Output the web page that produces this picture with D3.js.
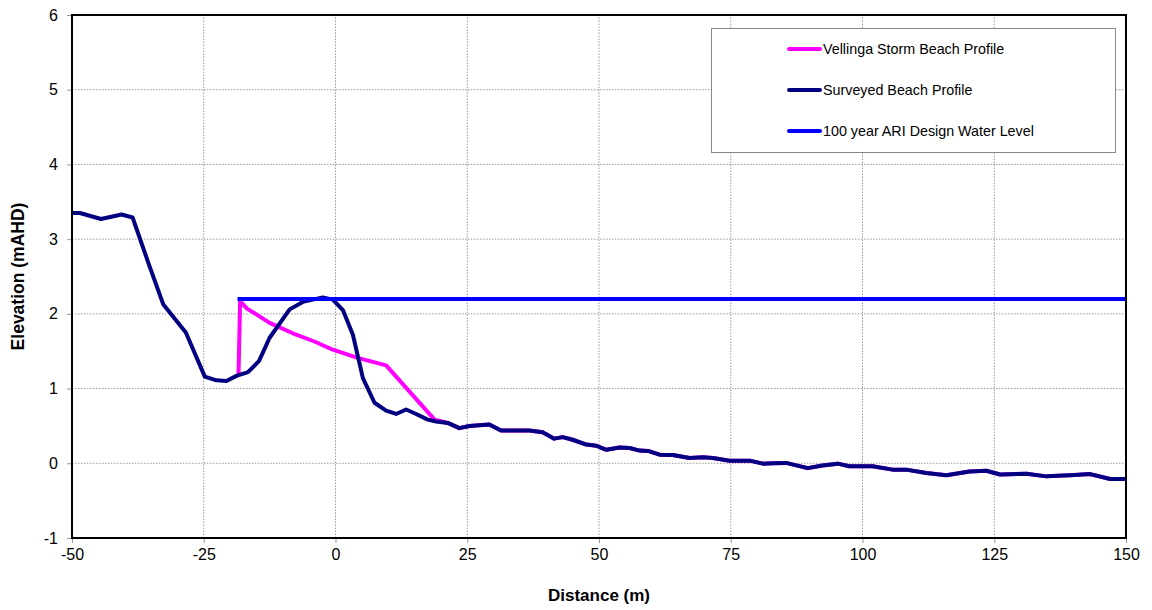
<!DOCTYPE html>
<head>
<meta charset="utf-8">
<style>
  body { margin: 0; background: #fff; }
  text { font-family: "Liberation Sans", Arial, sans-serif; }
</style>
</head>
<body>
<div id="chart"></div>
<script src="https://d3js.org/d3.v7.min.js"></script>
<script>
// surveyed beach profile
var surveyedX = [-50, -48.5, -44.5, -40.6, -38.5, -35.5, -32.7, -28.4, -24.8, -22.6, -20.7, -18.8, -16.6, -14.5, -12.5, -8.7, -6.2, -2.4, -0.5, 1.4, 3.3, 5.2, 7.4, 9.6, 11.5, 13.4, 15.3, 17.5, 19.1, 21.3, 23.5, 25.4, 29.2, 31.4, 34.9, 36.8, 39.3, 41.5, 43.1, 45.0, 47.6, 49.5, 51.4, 53.9, 55.8, 57.7, 59.3, 61.5, 64.0, 67.2, 69.7, 71.6, 74.8, 78.6, 81.1, 83.0, 85.5, 89.6, 92.4, 95.3, 97.5, 101.9, 105.7, 108.3, 112.1, 115.9, 120.3, 123.5, 126.1, 131.1, 134.9, 139.4, 143.2, 147.0, 150];
var surveyedY = [3.35, 3.35, 3.27, 3.33, 3.29, 2.68, 2.13, 1.75, 1.16, 1.11, 1.10, 1.17, 1.22, 1.37, 1.68, 2.06, 2.16, 2.22, 2.19, 2.05, 1.72, 1.14, 0.81, 0.705, 0.66, 0.72, 0.66, 0.585, 0.56, 0.54, 0.47, 0.50, 0.52, 0.44, 0.44, 0.44, 0.415, 0.33, 0.35, 0.315, 0.25, 0.235, 0.18, 0.21, 0.205, 0.17, 0.165, 0.115, 0.11, 0.07, 0.08, 0.07, 0.035, 0.035, -0.005, 0.0, 0.005, -0.065, -0.03, -0.005, -0.04, -0.04, -0.085, -0.085, -0.13, -0.16, -0.11, -0.10, -0.15, -0.14, -0.175, -0.16, -0.145, -0.21, -0.21];

// vellinga storm beach profile
var vellingaX = [-18.4, -18.1, -16.8, -14.5, -12.5, -8.1, -4.0, -0.5, 4.2, 9.6, 18.8, 21.3, 23.5, 25.4, 29.2, 31.4, 34.9, 36.8, 39.3, 41.5, 43.1, 45.0, 47.6, 49.5, 51.4, 53.9, 55.8, 57.7, 59.3, 61.5, 64.0, 67.2, 69.7, 71.6, 74.8, 78.6, 81.1, 83.0, 85.5, 89.6, 92.4, 95.3, 97.5, 101.9, 105.7, 108.3, 112.1, 115.9, 120.3, 123.5, 126.1, 131.1, 134.9, 139.4, 143.2, 147.0, 150];
var vellingaY = [1.19, 2.17, 2.07, 1.97, 1.88, 1.74, 1.63, 1.52, 1.41, 1.31, 0.585, 0.54, 0.47, 0.50, 0.52, 0.44, 0.44, 0.44, 0.415, 0.33, 0.35, 0.315, 0.25, 0.235, 0.18, 0.21, 0.205, 0.17, 0.165, 0.115, 0.11, 0.07, 0.08, 0.07, 0.035, 0.035, -0.005, 0.0, 0.005, -0.065, -0.03, -0.005, -0.04, -0.04, -0.085, -0.085, -0.13, -0.16, -0.11, -0.10, -0.15, -0.14, -0.175, -0.16, -0.145, -0.21, -0.21];

// design water level
var waterX = [-18.6, 150];
var waterY = [2.2, 2.2];

var xTicks = [-50, -25, 0, 25, 50, 75, 100, 125, 150];
var yTicks = [-1, 0, 1, 2, 3, 4, 5, 6];

var seriesNames = ["Vellinga Storm Beach Profile", "Surveyed Beach Profile", "100 year ARI Design Water Level"];
var seriesColors = ["#ff00ff", "#000080", "#0000ff"];

var width = 1152, height = 610;
var margin = {top: 15, right: 26, bottom: 72, left: 72};

var svg = d3.select("#chart").append("svg")
    .attr("width", width)
    .attr("height", height);

var x = d3.scaleLinear().domain([-50, 150]).range([margin.left, width - margin.right]);
var y = d3.scaleLinear().domain([-1, 6]).range([height - margin.bottom, margin.top]);

// gridlines
svg.append("g").selectAll("line")
    .data(xTicks.slice(1, -1))
  .enter().append("line")
    .attr("x1", function(d) { return x(d); })
    .attr("x2", function(d) { return x(d); })
    .attr("y1", y(-1))
    .attr("y2", y(6))
    .attr("stroke", "#999")
    .attr("stroke-width", 1)
    .attr("stroke-dasharray", "1.5,1.5");
svg.append("g").selectAll("line")
    .data(yTicks.slice(1, -1))
  .enter().append("line")
    .attr("x1", x(-50))
    .attr("x2", x(150))
    .attr("y1", function(d) { return y(d); })
    .attr("y2", function(d) { return y(d); })
    .attr("stroke", "#999")
    .attr("stroke-width", 1)
    .attr("stroke-dasharray", "1.5,1.5");

// axes
var fmt = function(d) { return String(d); };
var xAxis = svg.append("g")
    .attr("transform", "translate(0," + y(-1) + ")")
    .call(d3.axisBottom(x).tickValues(xTicks).tickFormat(fmt).tickSize(5).tickPadding(6));
var yAxis = svg.append("g")
    .attr("transform", "translate(" + x(-50) + ",0)")
    .call(d3.axisLeft(y).tickValues(yTicks).tickFormat(fmt).tickSize(5).tickPadding(9));
[xAxis, yAxis].forEach(function(a) {
  a.select(".domain").remove();
  a.selectAll(".tick line").attr("stroke", "#999");
  a.selectAll(".tick text")
    .attr("fill", "#000")
    .style("font-size", "16px")
    .style("font-family", "'Liberation Sans', Arial, sans-serif");
});

// line paths
var line = d3.line()
    .x(function(d) { return x(d[0]); })
    .y(function(d) { return y(d[1]); });

var plots = [
  d3.zip(vellingaX, vellingaY),
  d3.zip(surveyedX, surveyedY),
  d3.zip(waterX, waterY)
];
plots.forEach(function(pts, i) {
  svg.append("path")
    .datum(pts)
    .attr("d", line)
    .attr("fill", "none")
    .attr("stroke", seriesColors[i])
    .attr("stroke-width", 4)
    .attr("stroke-linejoin", "round");
});

// plot frame
svg.append("rect")
    .attr("x", x(-50))
    .attr("y", y(6))
    .attr("width", x(150) - x(-50))
    .attr("height", y(-1) - y(6))
    .attr("fill", "none")
    .attr("stroke", "#000")
    .attr("stroke-width", 2);

// legend
var legend = svg.append("g");
legend.append("rect")
    .attr("x", 711.5)
    .attr("y", 28.5)
    .attr("width", 404)
    .attr("height", 124)
    .attr("fill", "#fff")
    .attr("stroke", "#888")
    .attr("stroke-width", 1);
seriesNames.forEach(function(name, i) {
  var ly = 49 + i * 41;
  legend.append("line")
    .attr("x1", 789)
    .attr("x2", 820)
    .attr("y1", ly)
    .attr("y2", ly)
    .attr("stroke", seriesColors[i])
    .attr("stroke-width", 4)
    .attr("stroke-linecap", "round");
  legend.append("text")
    .attr("x", 823)
    .attr("y", ly + 5)
    .style("font-size", "14.3px")
    .text(name);
});

// axis titles
svg.append("text")
    .attr("text-anchor", "middle")
    .attr("x", (x(-50) + x(150)) / 2)
    .attr("y", 601)
    .style("font-size", "17px")
    .style("font-weight", "bold")
    .text("Distance (m)");
svg.append("text")
    .attr("text-anchor", "middle")
    .attr("transform", "translate(24," + (y(2.5)) + ")rotate(-90)")
    .style("font-size", "17.5px")
    .style("font-weight", "bold")
    .text("Elevation (mAHD)");
</script>
</body>
</html>
